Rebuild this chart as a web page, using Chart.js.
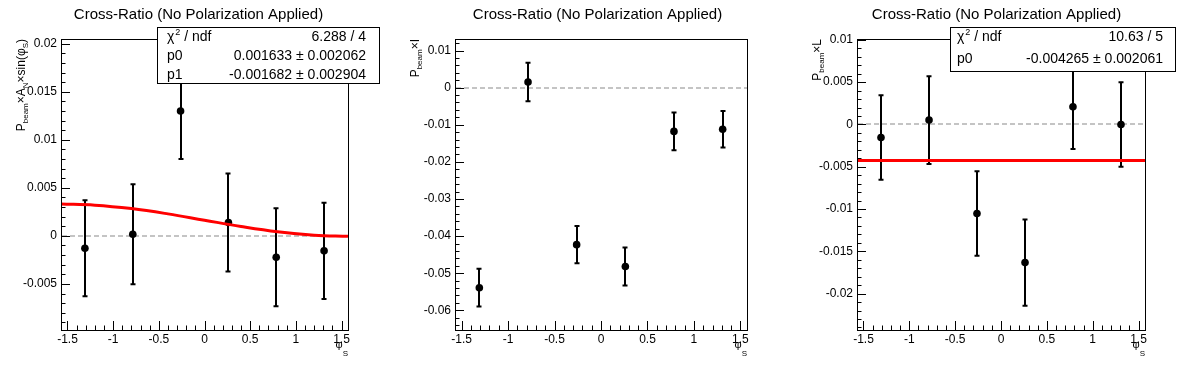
<!DOCTYPE html>
<html>
<head>
<meta charset="utf-8">
<script src="https://cdn.jsdelivr.net/npm/chart.js@4.4.1/dist/chart.umd.min.js"></script>
<style>
  body { margin: 0; background: #fff; }
  canvas.pad { position: absolute; top: 0; }
</style>
</head>
<body>
<canvas id="c1" class="pad" width="399" height="372" style="left:0"></canvas>
<canvas id="c2" class="pad" width="399" height="372" style="left:399px"></canvas>
<canvas id="c3" class="pad" width="398" height="372" style="left:798px"></canvas>
<script>
// bin centres in phi_S
const phiS = [-1.309, -0.785, -0.262, 0.262, 0.785, 1.309];

// P_beam x A_N x sin(phi_S)
const sinVals = [-0.00129, 0.00017, 0.0130, 0.00139, -0.00222, -0.00156];
const sinErrs = [0.0050, 0.0052, 0.0050, 0.0051, 0.0051, 0.0050];
// fit curve
const sinFitX = [-1.5708, -1.2, -0.8, -0.4, 0, 0.4, 0.8, 1.2, 1.5708];
const sinFitY = [0.00331, 0.00320, 0.00284, 0.00229, 0.00163, 0.00098, 0.00043, 0.00007, -0.00005];

// P_beam x I
const iVals = [-0.0539, 0.00153, -0.0423, -0.0482, -0.0118, -0.0112];
const iErrs = [0.0051, 0.0052, 0.0050, 0.0051, 0.0051, 0.0049];

// P_beam x L
const lVals = [-0.00154, 0.00051, -0.01053, -0.01633, 0.00209, 0.0000];
const lErrs = [0.0050, 0.0052, 0.0050, 0.0051, 0.0050, 0.0050];
const lFitX = [-1.5708, 1.5708];
const lFitY = [-0.004265, -0.004265];

// axes
const xMin = -1.5708, xMax = 1.5708;
const xTicks = [-1.5, -1, -0.5, 0, 0.5, 1, 1.5];
const y1Ticks = [-0.005, 0, 0.005, 0.01, 0.015, 0.02];
const y2Ticks = [-0.06, -0.05, -0.04, -0.03, -0.02, -0.01, 0, 0.01];
const y3Ticks = [-0.02, -0.015, -0.01, -0.005, 0, 0.005, 0.01];

const title = 'Cross-Ratio (No Polarization Applied)';
const stats1 = [['χ', '6.288 / 4'], ['p0', '0.001633 ± 0.002062'], ['p1', '-0.001682 ± 0.002904']];
const stats3 = [['χ', '10.63 / 5'], ['p0', '-0.004265 ± 0.002061']];

const FONT = '"Liberation Sans", Arial, Helvetica, sans-serif';
const H = 372;

const panels = [
  { id: 'c1', w: 399, frame: { l: 61, r: 348, t: 39, b: 330 }, yMin: -0.0098, yMax: 0.0205,
    yTicks: y1Ticks, yMinor: 0.001, vals: sinVals, errs: sinErrs, fitX: sinFitX, fitY: sinFitY, tension: 0.4,
    yTitle: [['P'], ['beam', 1], ['×'], ['A'], ['N', 1], ['×sin('], ['φ'], ['S', 1], [')']],
    stats: stats1, box: { l: 157, r: 379, t: 27, b: 83 }, base: [40.5, 60, 79], tx: 167, vx: 366 },
  { id: 'c2', w: 399, frame: { l: 56, r: 348, t: 39, b: 330 }, yMin: -0.0653, yMax: 0.0131,
    yTicks: y2Ticks, yMinor: 0.002, vals: iVals, errs: iErrs,
    yTitle: [['P'], ['beam', 1], ['×I']] },
  { id: 'c3', w: 398, frame: { l: 59, r: 347, t: 39, b: 330 }, yMin: -0.0243, yMax: 0.0101,
    yTicks: y3Ticks, yMinor: 0.001, vals: lVals, errs: lErrs, fitX: lFitX, fitY: lFitY, tension: 0,
    yTitle: [['P'], ['beam', 1], ['×L']],
    stats: stats3, box: { l: 152, r: 377, t: 27, b: 71 }, base: [41, 63], tx: 159, vx: 365 }
];

function minorTicks(min, max, step) {
  const out = [];
  for (let k = Math.ceil(min / step - 1e-6); k <= Math.floor(max / step + 1e-6); k++) out.push(k * step);
  return out;
}

function richWidth(ctx, parts, big, small) {
  let w = 0;
  parts.forEach(([t, sub]) => { ctx.font = (sub ? small : big) + 'px ' + FONT; w += ctx.measureText(t).width; });
  return w;
}

function rootPlugin(p) {
  return {
    id: 'root' + p.id,
    beforeDatasetsDraw(chart) {
      const { ctx, scales: { x, y } } = chart;
      const f = p.frame;
      ctx.save();
      // zero line
      const y0 = Math.round(y.getPixelForValue(0));
      ctx.strokeStyle = '#c4c4c4';
      ctx.lineWidth = 2;
      ctx.setLineDash([5, 3]);
      ctx.beginPath(); ctx.moveTo(f.l + 1, y0); ctx.lineTo(f.r, y0); ctx.stroke();
      ctx.setLineDash([]);
      // error bars
      ctx.strokeStyle = '#000';
      ctx.lineWidth = 2;
      phiS.forEach((v, i) => {
        const px = Math.round(x.getPixelForValue(v));
        const ylo = y.getPixelForValue(p.vals[i] - p.errs[i]);
        const yhi = y.getPixelForValue(p.vals[i] + p.errs[i]);
        ctx.beginPath();
        ctx.moveTo(px, ylo); ctx.lineTo(px, yhi);
        ctx.moveTo(px - 2.5, ylo); ctx.lineTo(px + 2.5, ylo);
        ctx.moveTo(px - 2.5, yhi); ctx.lineTo(px + 2.5, yhi);
        ctx.stroke();
      });
      ctx.restore();
    },
    afterDatasetsDraw(chart) {
      const { ctx, scales: { x, y } } = chart;
      const f = p.frame;
      ctx.save();
      ctx.strokeStyle = '#000';
      ctx.lineWidth = 1;
      ctx.strokeRect(f.l + 0.5, f.t + 0.5, f.r - f.l, f.b - f.t);
      ctx.beginPath();
      // x ticks (inside frame)
      minorTicks(xMin, xMax, 0.1).forEach(v => {
        const px = Math.round(x.getPixelForValue(v)) + 0.5;
        const major = xTicks.some(t => Math.abs(t - v) < 1e-6);
        ctx.moveTo(px, f.b); ctx.lineTo(px, f.b - (major ? 9 : 4.5));
      });
      // y ticks
      minorTicks(p.yMin, p.yMax, p.yMinor).forEach(v => {
        const py = Math.round(y.getPixelForValue(v)) + 0.5;
        const major = p.yTicks.some(t => Math.abs(t - v) < 1e-9);
        ctx.moveTo(f.l, py); ctx.lineTo(f.l + (major ? 9 : 4.5), py);
      });
      ctx.stroke();
      ctx.restore();
    },
    afterDraw(chart) {
      const { ctx } = chart;
      const f = p.frame;
      ctx.save();
      ctx.fillStyle = '#000';
      // title
      ctx.font = '15px ' + FONT;
      ctx.textAlign = 'center';
      ctx.textBaseline = 'alphabetic';
      ctx.fillText(title, 198.5, 19);
      ctx.textAlign = 'left';
      // y title, rotated, ending at frame top
      ctx.save();
      ctx.translate(f.l - 36, f.t);
      ctx.rotate(-Math.PI / 2);
      let cx = -richWidth(ctx, p.yTitle, 12, 8);
      p.yTitle.forEach(([t, sub]) => {
        ctx.font = (sub ? 8 : 12) + 'px ' + FONT;
        ctx.fillText(t, cx, sub ? 3 : 0);
        cx += ctx.measureText(t).width;
      });
      ctx.restore();
      // x title, right aligned under the axis
      const xt = [['φ'], ['S', 1]];
      let xx = f.r - richWidth(ctx, xt, 11, 8);
      xt.forEach(([t, sub]) => {
        ctx.font = (sub ? 8 : 11) + 'px ' + FONT;
        ctx.fillText(t, xx, sub ? 356 : 348);
        xx += ctx.measureText(t).width;
      });
      // stats box
      if (p.stats) {
        const b = p.box;
        ctx.fillStyle = '#fff';
        ctx.fillRect(b.l, b.t, b.r - b.l, b.b - b.t);
        ctx.strokeStyle = '#000';
        ctx.lineWidth = 1;
        ctx.strokeRect(b.l + 0.5, b.t + 0.5, b.r - b.l, b.b - b.t);
        ctx.fillStyle = '#000';
        p.stats.forEach(([lab, val], i) => {
          const by = p.base[i];
          ctx.textAlign = 'left';
          ctx.font = '14px ' + FONT;
          ctx.fillText(lab, p.tx, by);
          if (i === 0) {
            let w = ctx.measureText(lab).width;
            ctx.font = '9px ' + FONT;
            ctx.fillText('2', p.tx + w + 1, by - 6);
            w += ctx.measureText('2').width + 1;
            ctx.font = '14px ' + FONT;
            ctx.fillText(' / ndf', p.tx + w, by);
          }
          ctx.textAlign = 'right';
          ctx.fillText(val, p.vx, by);
        });
      }
      ctx.restore();
    }
  };
}

panels.forEach(p => {
  const datasets = [];
  if (p.fitX) {
    datasets.push({
      type: 'line', data: p.fitX.map((v, i) => ({ x: v, y: p.fitY[i] })),
      borderColor: '#ff0000', borderWidth: 3, pointRadius: 0, fill: false,
      tension: p.tension, order: 0
    });
  }
  datasets.push({
    type: 'scatter', data: phiS.map((v, i) => ({ x: v, y: p.vals[i] })),
    backgroundColor: '#000', borderColor: '#000', borderWidth: 0, pointRadius: 3.8, order: 1
  });
  const tickFont = { family: FONT, size: 12 };
  new Chart(document.getElementById(p.id), {
    type: 'scatter',
    data: { datasets },
    options: {
      responsive: false, animation: false, devicePixelRatio: 1,
      layout: { padding: { left: 0, top: p.frame.t, right: p.w - p.frame.r, bottom: 0 } },
      plugins: { legend: { display: false }, tooltip: { enabled: false } },
      scales: {
        x: {
          type: 'linear', min: xMin, max: xMax,
          afterBuildTicks: s => { s.ticks = xTicks.map(v => ({ value: v })); },
          afterFit: s => { s.height = H - p.frame.b; },
          grid: { display: false, drawTicks: false }, border: { display: false },
          ticks: { autoSkip: false, maxRotation: 0, padding: 2, color: '#000', font: tickFont, callback: v => String(v) }
        },
        y: {
          type: 'linear', min: p.yMin, max: p.yMax,
          afterBuildTicks: s => { s.ticks = p.yTicks.map(v => ({ value: v })); },
          afterFit: s => { s.width = p.frame.l; },
          grid: { display: false, drawTicks: false }, border: { display: false },
          ticks: { autoSkip: false, padding: 4, color: '#000', font: tickFont, callback: v => String(v) }
        }
      }
    },
    plugins: [rootPlugin(p)]
  });
});
</script>
</body>
</html>
